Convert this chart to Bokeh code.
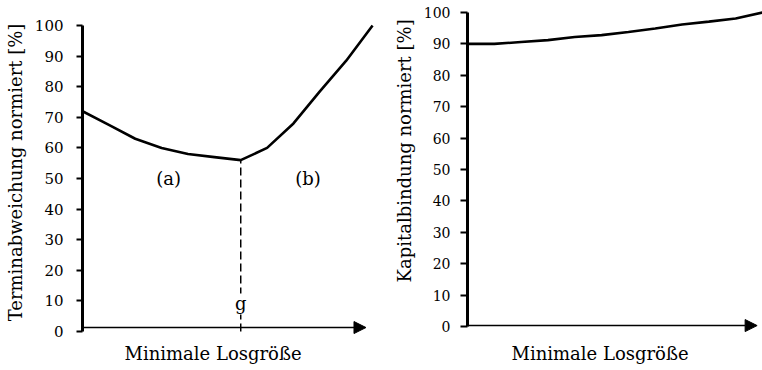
from bokeh.plotting import figure
from bokeh.layouts import row
from bokeh.models import Range1d, FixedTicker, Arrow, NormalHead, Label, Title
from bokeh.embed import file_html
from bokeh.resources import INLINE

FONT = "DejaVu Serif"

# ---- data ----
x_steps = list(range(12))
termin = [72, 67.5, 63, 60, 58, 57, 56, 60, 68, 78.5, 88.5, 100]
kapital = [90, 90, 90.6, 91.2, 92.2, 92.8, 93.8, 94.9, 96.2, 97.1, 98.1, 100]
y_ticks = [0, 10, 20, 30, 40, 50, 60, 70, 80, 90, 100]
left_ylabel = "Terminabweichung normiert [%]"
right_ylabel = "Kapitalbindung normiert [%]"
xlabel = "Minimale Losgröße"
g_index = 6
g_label = "g"
g_label_y = 9
region_labels = ["(a)", "(b)"]
region_x = [3.27, 8.55]
region_y = [50, 50]

H = 370


def base_fig(width, xr, yr, mbl, mbr):
    p = figure(width=width, height=H, x_range=xr, y_range=yr,
               output_backend="svg", toolbar_location=None,
               min_border_left=mbl, min_border_right=mbr,
               min_border_top=8, min_border_bottom=34)
    p.outline_line_color = None
    p.grid.visible = False
    p.xaxis.visible = False
    p.yaxis.ticker = FixedTicker(ticks=y_ticks)
    p.yaxis.bounds = (0, 100)
    p.yaxis.axis_line_width = 3
    p.yaxis.axis_line_color = "black"
    p.yaxis.major_tick_line_width = 2
    p.yaxis.major_tick_line_color = "black"
    p.yaxis.major_tick_in = 0
    p.yaxis.minor_tick_line_color = None
    p.yaxis.major_label_text_font = FONT
    p.yaxis.major_label_text_color = "black"
    p.yaxis.axis_label_text_font = FONT
    p.yaxis.axis_label_text_font_style = "normal"
    p.yaxis.axis_label_text_color = "black"
    p.yaxis.axis_label_text_font_size = "18px"
    return p


def add_title(p, text, loc, align, offset, standoff, size="18px"):
    t = Title(text=text, align=align, offset=offset, standoff=standoff,
              text_font=FONT, text_font_size=size, text_font_style="normal",
              text_color="black")
    p.add_layout(t, loc)


# ---- left chart ----
p1 = base_fig(385, Range1d(0, 11.3), Range1d(-1.63, 105.56), 82, 5)
p1.yaxis.axis_label = left_ylabel
p1.yaxis.major_tick_out = 6
p1.yaxis.major_label_standoff = 13
p1.yaxis.axis_label_standoff = 6
p1.yaxis.major_label_text_font_size = "15px"
p1.add_layout(Arrow(end=NormalHead(size=12, fill_color="black", line_color="black"),
                    x_start=0, y_start=1.3, x_end=10.75, y_end=1.3,
                    line_width=1.6, line_color="black"))
p1.line(x_steps, termin, line_width=2.6, line_color="black")
p1.line([x_steps[g_index], x_steps[g_index]], [0, termin[g_index]],
        line_width=1.5, line_color="black", line_dash="8 4")
p1.add_layout(Label(x=x_steps[g_index], y=g_label_y, text=g_label, text_align="center",
                    text_baseline="middle", text_font=FONT, text_font_size="18px",
                    text_color="black", background_fill_color="white"))
for t, xx, yy in zip(region_labels, region_x, region_y):
    p1.add_layout(Label(x=xx, y=yy, text=t, text_align="center", text_baseline="middle",
                        text_font=FONT, text_font_size="18px", text_color="black"))
add_title(p1, xlabel, "below", "left", 42, 8)

# ---- right chart ----
p2 = base_fig(377, Range1d(0, 11), Range1d(-3.18, 101.27), 80, 0)
p2.yaxis.major_tick_out = 7
p2.yaxis.major_label_standoff = 10
p2.yaxis.major_label_text_font_size = "14px"
p2.add_layout(Arrow(end=NormalHead(size=12, fill_color="black", line_color="black"),
                    x_start=0, y_start=0.3, x_end=10.8, y_end=0.3,
                    line_width=1.6, line_color="black"))
p2.line(x_steps, kapital, line_width=2.6, line_color="black")
add_title(p2, xlabel, "below", "left", 44, 8)
add_title(p2, right_ylabel, "left", "left", 54, 12, "18px")

layout = row(p1, p2)
open("out.html", "w").write(file_html(layout, INLINE))
